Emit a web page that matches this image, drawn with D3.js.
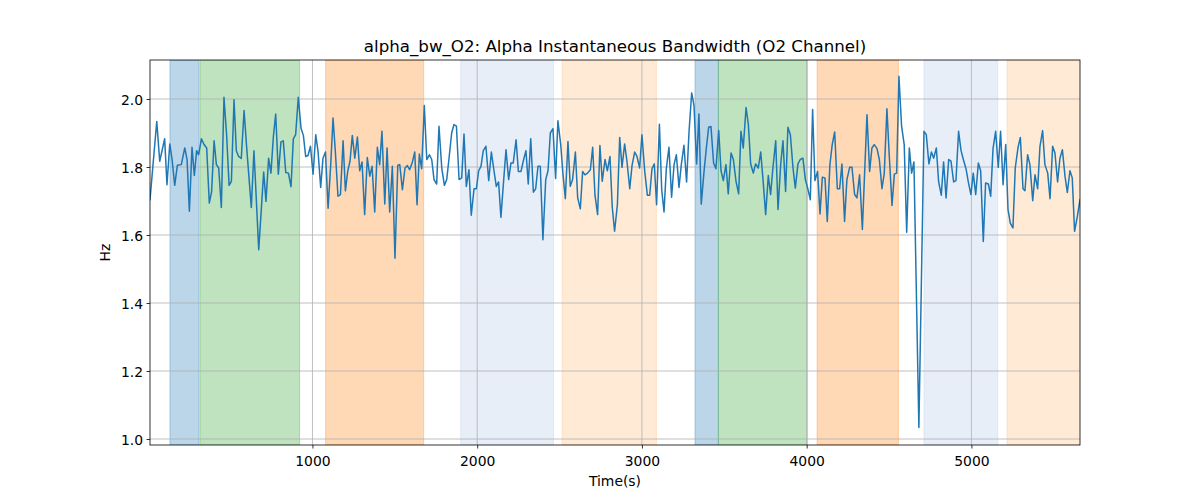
<!DOCTYPE html>
<html>
<head>
<meta charset="utf-8">
<script src="https://cdn.jsdelivr.net/npm/d3@7"></script>
<style>
  body { margin: 0; background: #fff; }
  svg text { font-family: "DejaVu Sans", sans-serif; fill: #000; }
</style>
</head>
<body>
<svg id="chart" width="1200" height="500"></svg>
<script>
// ---- data ----
const title = "alpha_bw_O2: Alpha Instantaneous Bandwidth (O2 Channel)";
const xLabel = "Time(s)";
const yLabel = "Hz";
const xTicks = [1000, 2000, 3000, 4000, 5000];
const yTicks = [1.0, 1.2, 1.4, 1.6, 1.8, 2.0];

const times = [
  14,55,73,103,117,134,148,164,180,204,225,239,253,269,283,297,309,326,342,358,374,388,403,417,431,447,463,479,494,508,524,538,552,568,585,601,615,629,645,674,704,718,734,748,763,777,793,809,823,838,854,870,884,898,914,931,945,
  959,973,988,1004,1020,1034,1050,1064,1079,1095,1111,1125,1139,1155,1170,1186,1200,1214,1228,1242,1257,1273,1287,1301,1317,1333,1348,1362,1378,1394,1408,1422,1439,1453,1469,1485,1501,1518,1530,1546,1562,1576,1590,1607,1621,1635,1649,1663,1679,1694,1710,1724,1738,1754,1768,1785,1801,1815,1829,1845,1859,1874,1890,
  1906,1920,1934,1950,1964,1981,1995,2009,2023,2037,2053,2070,2086,2102,2116,2130,2144,2161,2175,2191,2205,2219,2236,2250,2266,2282,2296,2310,2325,2341,2355,2369,2383,2399,2416,2430,2444,2460,2476,2490,2507,2521,2535,2551,2565,2579,2596,2610,2626,2640,2654,2670,2687,2701,2715,2731,2745,2759,2776,2790,2806,2820,2834,
  2851,2865,2879,2895,2909,2926,2940,2956,2970,2986,3000,3017,3033,3047,3061,3075,3089,3106,3120,3134,3148,3164,3180,3195,3209,3225,3239,3255,3271,3286,3302,3316,3332,3346,3360,3377,3391,3405,3419,3435,3449,3466,3480,3494,3510,3524,3541,3555,3571,3587,3601,3615,3632,3646,3660,3676,3690,3706,3721,3735,3751,3767,
  3781,3795,3812,3826,3842,3856,3872,3886,3901,3917,3931,3947,3961,3977,3992,4006,4022,4036,4050,4066,4081,4095,4111,4125,4141,4155,4170,4186,4200,4214,4230,4244,4261,4275,4291,4305,4321,4338,4352,4366,4382,4396,4410,4427,4441,4457,4471,4487,4501,4518,4532,4546,4560,4576,4592,4607,4623,4637,4651,4681,
  4712,4726,4742,4757,4771,4787,4801,4817,4831,4846,4862,4876,4892,4906,4922,4937,4951,4967,4981,4997,5011,5026,5042,5056,5072,5086,5103,5117,5131,5147,5163,5177,5192,5208,5222,5236,5252,5266,5283,5297,5313,5325,5341,5355,5372,5386,5402,5416,5432,5446,5463,5477,5493,5507,5523,5537,5552,5568,5582,5598,5612,5626,5643,5659
];
const bandwidth = [
  1.704,1.934,1.817,1.883,1.748,1.868,1.822,1.746,1.805,1.807,1.856,1.822,1.670,1.858,1.775,1.848,1.836,1.883,1.866,1.856,1.694,1.728,1.877,1.807,1.797,1.681,2.005,1.895,1.746,1.758,1.998,1.848,1.831,1.825,1.966,1.856,1.768,1.681,1.848,1.557,1.785,1.699,1.826,1.782,1.890,1.956,1.779,1.874,1.877,1.784,1.782,1.742,1.883,1.895,2.005,1.913,1.893,
  1.831,1.834,1.861,1.779,1.895,1.846,1.740,1.826,1.844,1.679,1.807,1.944,1.846,1.714,1.719,1.877,1.730,1.787,1.817,1.893,1.826,1.888,1.789,1.815,1.660,1.828,1.773,1.802,1.668,1.858,1.807,1.905,1.691,1.856,1.668,1.802,1.532,1.805,1.807,1.733,1.797,1.804,1.792,1.815,1.844,1.689,1.838,1.795,1.981,1.822,1.836,1.822,1.763,1.750,1.920,1.797,1.746,1.763,1.825,1.900,1.925,1.920,1.763,
  1.768,1.897,1.743,1.792,1.658,1.736,1.736,1.789,1.802,1.848,1.861,1.760,1.844,1.789,1.743,1.756,1.652,1.763,1.851,1.763,1.812,1.812,1.880,1.787,1.787,1.822,1.848,1.750,1.883,1.726,1.736,1.802,1.802,1.586,1.763,1.789,1.900,1.913,1.766,1.936,1.866,1.777,1.707,1.875,1.743,1.763,1.844,1.709,1.677,1.787,1.777,1.782,1.792,1.858,1.717,1.660,1.863,1.758,1.822,1.789,1.831,1.681,1.611,
  1.689,1.887,1.799,1.868,1.817,1.736,1.805,1.844,1.831,1.797,1.895,1.787,1.717,1.717,1.795,1.809,1.689,1.926,1.733,1.668,1.795,1.858,1.711,1.807,1.836,1.740,1.807,1.864,1.756,1.905,2.018,1.981,1.809,1.956,1.691,1.787,1.856,1.917,1.919,1.812,1.795,1.907,1.789,1.760,1.807,1.721,1.841,1.822,1.758,1.721,1.905,1.856,1.975,1.925,1.809,1.782,1.809,1.797,1.844,1.763,1.660,1.775,
  1.719,1.797,1.877,1.675,1.807,1.877,1.728,1.917,1.895,1.797,1.738,1.809,1.822,1.826,1.763,1.738,1.704,1.969,1.760,1.787,1.662,1.770,1.768,1.640,1.807,1.866,1.903,1.736,1.736,1.809,1.640,1.763,1.799,1.799,1.719,1.709,1.777,1.616,1.787,1.954,1.787,1.856,1.866,1.854,1.822,1.736,1.782,1.971,1.836,1.687,1.779,1.782,2.067,1.920,1.866,1.608,1.856,1.782,1.815,1.034,
  1.905,1.895,1.809,1.844,1.826,1.856,1.756,1.717,1.815,1.709,1.822,1.817,1.756,1.760,1.905,1.848,1.822,1.795,1.756,1.719,1.782,1.719,1.812,1.789,1.581,1.753,1.750,1.714,1.854,1.905,1.799,1.905,1.748,1.866,1.675,1.635,1.621,1.797,1.858,1.887,1.736,1.730,1.836,1.807,1.701,1.777,1.736,1.861,1.907,1.807,1.782,1.707,1.861,1.841,1.756,1.825,1.851,1.773,1.725,1.789,1.768,1.611,1.655,1.704
];

// shaded intervals (start, end, kind)
const spanStart = [135, 317, 1080, 1900, 2515, 3322, 3464, 4063, 4712, 5216];
const spanEnd   = [311, 922, 1675, 2463, 3088, 3464, 4004, 4557, 5160, 5700];
const spanKind  = ["A", "B", "C", "D", "E", "A", "B", "C", "D", "E"];

// ---- layout / style ----
const kindColor = { A: "#1f77b4", B: "#2ca02c", C: "#ff7f0e", D: "#aec7e8", E: "#ffbb78" };
const margin = { left: 150, right: 120, top: 60, bottom: 55 };
const W = 1200, H = 500;
const iw = W - margin.left - margin.right;
const ih = H - margin.top - margin.bottom;

const svg = d3.select("#chart");
const g = svg.append("g").attr("transform", `translate(${margin.left},${margin.top})`);

const x = d3.scaleLinear().domain([14, 5659]).range([0, iw]);
const y = d3.scaleLinear().domain([0.9824, 2.1147]).range([ih, 0]);

g.append("defs").append("clipPath").attr("id", "clip")
  .append("rect").attr("width", iw).attr("height", ih);

// spans
const spans = spanStart.map((s, i) => ({ s, e: spanEnd[i], k: spanKind[i] }));
g.append("g").attr("clip-path", "url(#clip)")
  .selectAll("rect").data(spans).join("rect")
  .attr("x", d => x(d.s))
  .attr("width", d => x(d.e) - x(d.s))
  .attr("y", 0).attr("height", ih)
  .attr("fill", d => kindColor[d.k]).attr("fill-opacity", 0.3)
  .attr("stroke", d => kindColor[d.k]).attr("stroke-opacity", 0.3).attr("stroke-width", 1);

// grid
g.append("g").selectAll("line").data(xTicks).join("line")
  .attr("x1", d => x(d)).attr("x2", d => x(d)).attr("y1", 0).attr("y2", ih)
  .attr("stroke", "#b0b0b0").attr("stroke-width", 0.8);
g.append("g").selectAll("line").data(yTicks).join("line")
  .attr("y1", d => y(d)).attr("y2", d => y(d)).attr("x1", 0).attr("x2", iw)
  .attr("stroke", "#b0b0b0").attr("stroke-width", 0.8);

// line
const pts = times.map((t, i) => [t, bandwidth[i]]);
g.append("path").datum(pts)
  .attr("clip-path", "url(#clip)")
  .attr("fill", "none").attr("stroke", "#1f77b4").attr("stroke-width", 1.5)
  .attr("stroke-linejoin", "round").attr("stroke-linecap", "square")
  .attr("d", d3.line().x(d => x(d[0])).y(d => y(d[1])));

// axes
const xAxis = g.append("g").attr("transform", `translate(0,${ih})`)
  .call(d3.axisBottom(x).tickValues(xTicks).tickFormat(d3.format("d")).tickSize(3.5).tickPadding(3.5));
const yAxis = g.append("g")
  .call(d3.axisLeft(y).tickValues(yTicks).tickFormat(d3.format(".1f")).tickSize(3.5).tickPadding(3.5));
[xAxis, yAxis].forEach(a => {
  a.select(".domain").remove();
  a.selectAll(".tick line").attr("stroke", "#000").attr("stroke-width", 0.8);
  a.selectAll(".tick text").attr("font-size", "13.9px").attr("fill", "#000")
    .style("font-family", '"DejaVu Sans", sans-serif');
});
xAxis.selectAll(".tick text").attr("dy", null).attr("y", 21);
yAxis.selectAll(".tick text").attr("dy", "0.36em");

// frame
g.append("rect").attr("width", iw).attr("height", ih)
  .attr("fill", "none").attr("stroke", "#000").attr("stroke-width", 0.8);

// labels
svg.append("text").attr("x", margin.left + iw / 2).attr("y", 52)
  .attr("text-anchor", "middle").attr("font-size", "16.67px").text(title);
svg.append("text").attr("x", margin.left + iw / 2).attr("y", 486)
  .attr("text-anchor", "middle").attr("font-size", "13.9px").text(xLabel);
svg.append("text").attr("transform", `translate(110,${margin.top + ih / 2}) rotate(-90)`)
  .attr("text-anchor", "middle").attr("font-size", "13.9px").text(yLabel);
</script>
</body>
</html>
